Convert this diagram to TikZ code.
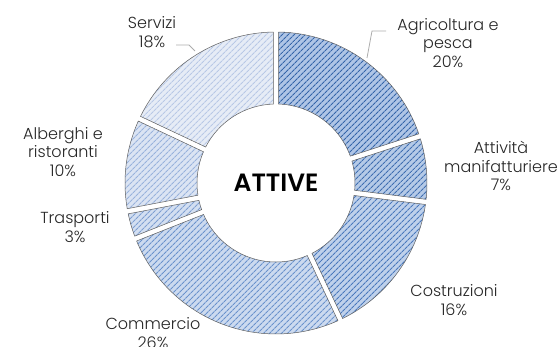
\documentclass[tikz,border=0pt]{standalone}
\usepackage{fontspec}
\IfFontExistsTF{Poppins Light}{\setmainfont{Poppins Light}[BoldFont=Poppins SemiBold]}{\setmainfont{Poppins}}
\usetikzlibrary{patterns.meta}

\definecolor{agrifill}{HTML}{AFC5E6}\definecolor{agrihatch}{HTML}{3565A9}
\definecolor{attifill}{HTML}{B5CAE7}\definecolor{attihatch}{HTML}{3F6EB1}
\definecolor{costfill}{HTML}{BFD1EB}\definecolor{costhatch}{HTML}{4A79BC}
\definecolor{commfill}{HTML}{CCDAEF}\definecolor{commhatch}{HTML}{6A92CC}
\definecolor{trasfill}{HTML}{D3DFF1}\definecolor{trashatch}{HTML}{7E9FD2}
\definecolor{albefill}{HTML}{DBE4F3}\definecolor{albehatch}{HTML}{98B2DC}
\definecolor{servfill}{HTML}{E6ECF6}\definecolor{servhatch}{HTML}{B8C8E6}

\tikzset{
  lbl/.style={align=center, font=\fontsize{16}{18.5}\selectfont, text=black!85, inner sep=0pt},
  leader/.style={draw=gray!65, line width=0.8pt},
  ring/.style={draw=gray!75!black, line width=0.5pt},
}

\newcommand{\rin}{79}
\newcommand{\rout}{151}
\newcommand{\hgap}{2.6}
% one piece of the ring: start angle, end angle, fill, hatch colour
\newcommand{\ringpart}[4]{%
  \pgfmathsetmacro{\sa}{#1-asin(\hgap/\rout)}%
  \pgfmathsetmacro{\sb}{#1-asin(\hgap/\rin)}%
  \pgfmathsetmacro{\ea}{#2+asin(\hgap/\rout)}%
  \pgfmathsetmacro{\eb}{#2+asin(\hgap/\rin)}%
  \draw[ring, preaction={fill=#3}, pattern={Lines[angle=45,distance=4pt,line width=1.1pt]}, pattern color=#4]
    (\sa:\rout) arc[start angle=\sa, end angle=\ea, radius=\rout]
    -- (\eb:\rin) arc[start angle=\eb, end angle=\sb, radius=\rin] -- cycle;
}

\begin{document}
\begin{tikzpicture}[x=1pt, y=1pt]
\useasboundingbox (0,0) rectangle (558,347);

\begin{scope}[shift={(276,164)}]
\ringpart{90}{18}{agrifill}{agrihatch}% 20%
\ringpart{18}{-7.2}{attifill}{attihatch}% 7%
\ringpart{-7.2}{-64.8}{costfill}{costhatch}% 16%
\ringpart{-64.8}{-158.4}{commfill}{commhatch}% 26%
\ringpart{-158.4}{-169.2}{trasfill}{trashatch}% 3%
\ringpart{-169.2}{-205.2}{albefill}{albehatch}% 10%
\ringpart{-205.2}{-270}{servfill}{servhatch}% 18%
\end{scope}

\node[font=\fontsize{25}{25}\selectfont\bfseries] (attive) at (276,164) {ATTIVE};

\node[lbl] (agri) at (448,304) {Agricoltura e\\pesca\\20\%};
\node[lbl] (atti) at (501,181) {Attività\\manifatturiere\\7\%};
\node[lbl] (cost) at (454,47) {Costruzioni\\16\%};
\node[lbl] (comm) at (153,14) {Commercio\\26\%};
\node[lbl] (tras) at (75,120) {Trasporti\\3\%};
\node[lbl] (albe) at (63,195) {Alberghi e\\ristoranti\\10\%};
\node[lbl] (serv) at (152,315) {Servizi\\18\%};

\coordinate (agriTip) at (367,289);
\coordinate (agriBend) at (372,316);
\coordinate (agriEnd) at (386,316);
\draw[leader] (agriTip) -- (agriBend) -- (agriEnd);

\coordinate (servEnd) at (176,302);
\coordinate (servBend) at (189,302);
\coordinate (servTip) at (195,296);
\draw[leader] (servEnd) -- (servBend) -- (servTip);
\end{tikzpicture}
\end{document}
